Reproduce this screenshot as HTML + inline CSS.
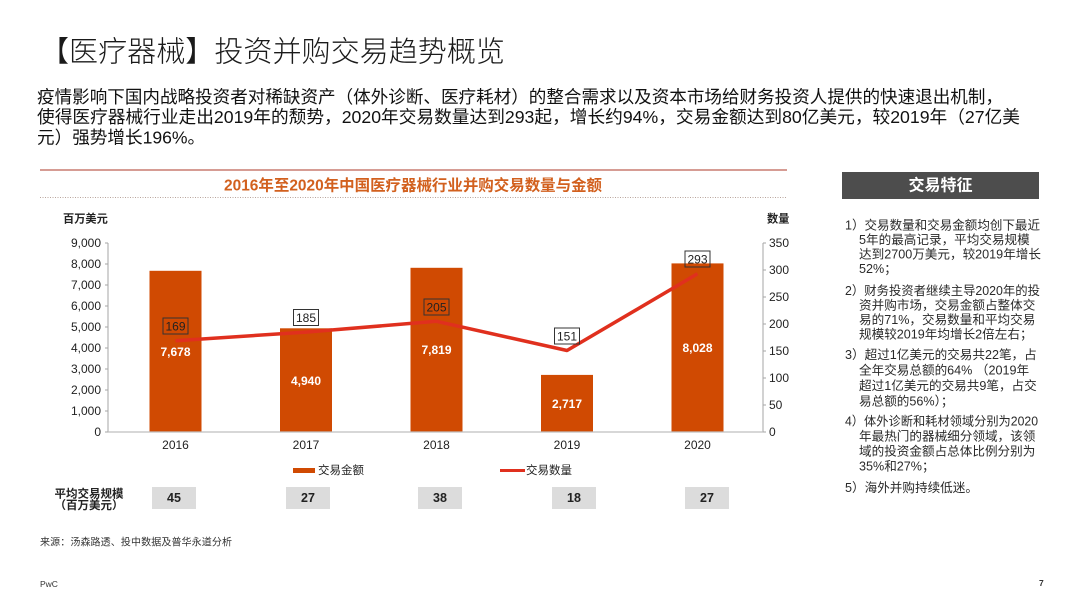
<!DOCTYPE html>
<html>
<head>
<meta charset="utf-8">
<style>
html,body{margin:0;padding:0;background:#fff;}
svg{display:block;}
text{font-family:"Liberation Sans","Noto Sans CJK SC",sans-serif;}
</style>
</head>
<body>
<svg width="1080" height="608" viewBox="0 0 1080 608" xmlns="http://www.w3.org/2000/svg">
<rect width="1080" height="608" fill="#fff"/>

<!-- Title -->
<text x="40" y="52.5" font-size="29" font-weight="300" fill="#1a1a1a" dominant-baseline="central" textLength="465" lengthAdjust="spacingAndGlyphs">【医疗器械】投资并购交易趋势概览</text>

<!-- Paragraph -->
<g font-size="17.6" fill="#111" dominant-baseline="central">
<text x="37" y="97" textLength="966" lengthAdjust="spacingAndGlyphs">疫情影响下国内战略投资者对稀缺资产（体外诊断、医疗耗材）的整合需求以及资本市场给财务投资人提供的快速退出机制，</text>
<text x="37" y="117" textLength="983" lengthAdjust="spacingAndGlyphs">使得医疗器械行业走出2019年的颓势，2020年交易数量达到293起，增长约94%，交易金额达到80亿美元，较2019年（27亿美</text>
<text x="37" y="137.5">元）强势增长196%。</text>
</g>

<!-- Chart header -->
<line x1="40" y1="170" x2="787" y2="170" stroke="#c97b70" stroke-width="1.5"/>
<text x="413" y="186" font-size="15.5" font-weight="bold" fill="#d2601e" text-anchor="middle" dominant-baseline="central" textLength="378" lengthAdjust="spacingAndGlyphs">2016年至2020年中国医疗器械行业并购交易数量与金额</text>
<line x1="40" y1="197.5" x2="787" y2="197.5" stroke="#b8a59c" stroke-width="1" stroke-dasharray="1,1.5"/>

<!-- Axis titles -->
<text x="63" y="219.5" font-size="11.2" font-weight="bold" fill="#222" dominant-baseline="central">百万美元</text>
<text x="767" y="219.5" font-size="11.2" font-weight="bold" fill="#222" dominant-baseline="central">数量</text>

<!-- Left axis -->
<line x1="108" y1="243" x2="108" y2="432" stroke="#a6a6a6" stroke-width="1"/>
<g stroke="#a6a6a6" stroke-width="1">
<line x1="105" y1="243" x2="108" y2="243"/><line x1="105" y1="264" x2="108" y2="264"/>
<line x1="105" y1="285" x2="108" y2="285"/><line x1="105" y1="306" x2="108" y2="306"/>
<line x1="105" y1="327" x2="108" y2="327"/><line x1="105" y1="348" x2="108" y2="348"/>
<line x1="105" y1="369" x2="108" y2="369"/><line x1="105" y1="390" x2="108" y2="390"/>
<line x1="105" y1="411" x2="108" y2="411"/><line x1="105" y1="432" x2="108" y2="432"/>
</g>
<g font-size="12" fill="#222" text-anchor="end" dominant-baseline="central">
<text x="101" y="243">9,000</text><text x="101" y="264">8,000</text>
<text x="101" y="285">7,000</text><text x="101" y="306">6,000</text>
<text x="101" y="327">5,000</text><text x="101" y="348">4,000</text>
<text x="101" y="369">3,000</text><text x="101" y="390">2,000</text>
<text x="101" y="411">1,000</text><text x="101" y="432">0</text>
</g>

<!-- Right axis -->
<line x1="763" y1="243" x2="763" y2="432" stroke="#a6a6a6" stroke-width="1"/>
<g stroke="#a6a6a6" stroke-width="1">
<line x1="763" y1="243" x2="766" y2="243"/><line x1="763" y1="270" x2="766" y2="270"/>
<line x1="763" y1="297" x2="766" y2="297"/><line x1="763" y1="324" x2="766" y2="324"/>
<line x1="763" y1="351" x2="766" y2="351"/><line x1="763" y1="378" x2="766" y2="378"/>
<line x1="763" y1="405" x2="766" y2="405"/><line x1="763" y1="432" x2="766" y2="432"/>
</g>
<g font-size="12" fill="#222" dominant-baseline="central">
<text x="769" y="243">350</text><text x="769" y="270">300</text>
<text x="769" y="297">250</text><text x="769" y="324">200</text>
<text x="769" y="351">150</text><text x="769" y="378">100</text>
<text x="769" y="405">50</text><text x="769" y="432">0</text>
</g>

<!-- Bars -->
<g fill="#d04a02">
<rect x="149.5" y="270.8" width="52" height="161.2"/>
<rect x="280" y="328.3" width="52" height="103.7"/>
<rect x="410.5" y="267.8" width="52" height="164.2"/>
<rect x="541" y="374.9" width="52" height="57.1"/>
<rect x="671.5" y="263.4" width="52" height="168.6"/>
</g>
<line x1="108" y1="432" x2="763" y2="432" stroke="#bfbfbf" stroke-width="1.2"/>

<!-- Bar labels -->
<g font-size="12" font-weight="bold" fill="#fff" text-anchor="middle" dominant-baseline="central">
<text x="175.5" y="352">7,678</text>
<text x="306" y="381">4,940</text>
<text x="436.5" y="350">7,819</text>
<text x="567" y="404">2,717</text>
<text x="697.5" y="348">8,028</text>
</g>

<!-- Line -->
<polyline points="175.5,340.7 306,332.1 436.5,321.3 567,350.5 697.5,273.8" fill="none" stroke="#e0301e" stroke-width="3.5" stroke-linejoin="round" stroke-linecap="butt"/>

<!-- Line labels -->
<g fill="none" stroke="#333" stroke-width="1">
<rect x="163" y="318" width="25" height="16"/>
<rect x="293.5" y="309.5" width="25" height="16"/>
<rect x="424" y="299" width="25" height="16"/>
<rect x="554.5" y="328" width="25" height="16"/>
<rect x="685" y="251" width="25" height="16"/>
</g>
<g font-size="12" fill="#222" text-anchor="middle" dominant-baseline="central">
<text x="175.5" y="326.5">169</text>
<text x="306" y="318">185</text>
<text x="436.5" y="307.5">205</text>
<text x="567" y="336.5">151</text>
<text x="697.5" y="259.5">293</text>
</g>

<!-- X labels -->
<g font-size="12" fill="#222" text-anchor="middle" dominant-baseline="central">
<text x="175.5" y="445">2016</text>
<text x="306" y="445">2017</text>
<text x="436.5" y="445">2018</text>
<text x="567" y="445">2019</text>
<text x="697.5" y="445">2020</text>
</g>

<!-- Legend -->
<rect x="293" y="468" width="22" height="5" fill="#d04a02"/>
<text x="318" y="471" font-size="11.5" fill="#222" dominant-baseline="central">交易金额</text>
<line x1="500" y1="470.5" x2="525" y2="470.5" stroke="#e0301e" stroke-width="3"/>
<text x="526" y="471" font-size="11.5" fill="#222" dominant-baseline="central">交易数量</text>

<!-- Average deal size -->
<g font-size="11.5" font-weight="bold" fill="#222" text-anchor="middle" dominant-baseline="central">
<text x="89" y="494.5">平均交易规模</text>
<text x="89" y="506">（百万美元）</text>
</g>
<g fill="#dcdcdc">
<rect x="152" y="487" width="44" height="22"/>
<rect x="286" y="487" width="44" height="22"/>
<rect x="418" y="487" width="44" height="22"/>
<rect x="552" y="487" width="44" height="22"/>
<rect x="685" y="487" width="44" height="22"/>
</g>
<g font-size="12.5" font-weight="bold" fill="#222" text-anchor="middle" dominant-baseline="central">
<text x="174" y="498">45</text>
<text x="308" y="498">27</text>
<text x="440" y="498">38</text>
<text x="574" y="498">18</text>
<text x="707" y="498">27</text>
</g>

<!-- Source / footer -->
<text x="40" y="543" font-size="10" fill="#333" dominant-baseline="central" textLength="192" lengthAdjust="spacing">来源：汤森路透、投中数据及普华永道分析</text>
<text x="40" y="584" font-size="8.5" fill="#333" dominant-baseline="central">PwC</text>
<text x="1039" y="583" font-size="8.5" font-weight="bold" fill="#333" dominant-baseline="central">7</text>

<!-- Right panel -->
<rect x="842" y="172" width="197" height="27" fill="#4d4d4d"/>
<text x="940.5" y="186" font-size="16" font-weight="bold" fill="#fff" text-anchor="middle" dominant-baseline="central">交易特征</text>

<g font-size="12.6" fill="#2a2a2a" dominant-baseline="central">
<text x="845" y="225.5" textLength="195" lengthAdjust="spacingAndGlyphs">1）交易数量和交易金额均创下最近</text>
<text x="859" y="240">5年的最高记录，平均交易规模</text>
<text x="859" y="254.5">达到2700万美元，较2019年增长</text>
<text x="859" y="269">52%；</text>

<text x="845" y="291" textLength="195" lengthAdjust="spacingAndGlyphs">2）财务投资者继续主导2020年的投</text>
<text x="859" y="305.5">资并购市场，交易金额占整体交</text>
<text x="859" y="320">易的71%，交易数量和平均交易</text>
<text x="859" y="334.5">规模较2019年均增长2倍左右；</text>

<text x="845" y="355">3）超过1亿美元的交易共22笔，占</text>
<text x="859" y="370.5">全年交易总额的64% （2019年</text>
<text x="859" y="386">超过1亿美元的交易共9笔，占交</text>
<text x="859" y="401.5">易总额的56%）；</text>

<text x="845" y="421.5" textLength="193" lengthAdjust="spacingAndGlyphs">4）体外诊断和耗材领域分别为2020</text>
<text x="859" y="436.5">年最热门的器械细分领域，该领</text>
<text x="859" y="451.5">域的投资金额占总体比例分别为</text>
<text x="859" y="466.5">35%和27%；</text>

<text x="845" y="488">5）海外并购持续低迷。</text>
</g>
</svg>
</body>
</html>
